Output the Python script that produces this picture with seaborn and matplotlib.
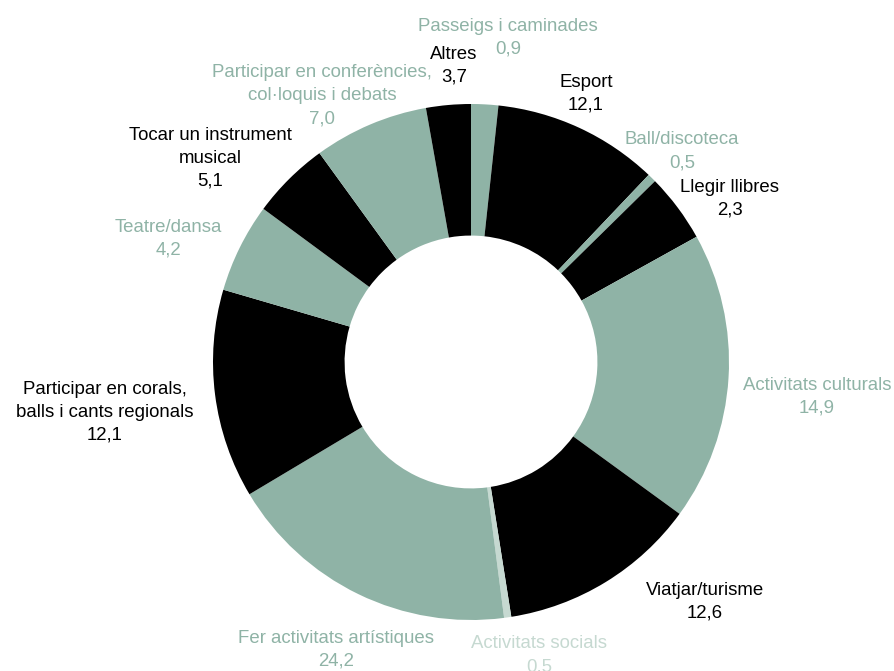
import matplotlib
matplotlib.use("Agg")
import matplotlib.pyplot as plt
import seaborn as sns

sns.set_theme(style="white")
plt.rcParams["font.family"] = ["Liberation Sans", "DejaVu Sans"]

# ── data ────────────────────────────────────────────────────────────────────
categories = [
    "Passeigs i caminades", "Esport", "Ball/discoteca", "Llegir llibres",
    "Activitats culturals", "Viatjar/turisme", "Activitats socials",
    "Fer activitats artístiques", "Participar en corals,\nballs i cants regionals",
    "Teatre/dansa", "Tocar un instrument\nmusical",
    "Participar en conferències,\ncol·loquis i debats", "Altres",
]
# values printed on the labels
values = [0.9, 12.1, 0.5, 2.3, 14.9, 12.6, 0.5, 24.2, 12.1, 4.2, 5.1, 7.0, 3.7]
# slice sizes as they are drawn in the picture (%)
shares = [1.7, 10.4, 0.55, 4.3, 18.1, 12.5, 0.45, 18.5, 13.1, 5.6, 4.9, 7.2, 2.8]

GREEN = "#8FB3A6"
LIGHT = "#C6D9D1"
BLACK = "#000000"
colors = [GREEN, BLACK, GREEN, BLACK, GREEN, BLACK, LIGHT,
          GREEN, BLACK, GREEN, BLACK, GREEN, BLACK]

# label centres in pixels (x, y of first line)
label_pos = [
    (508, 24), (586, 80), (682, 137), (730, 185), (817, 383), (705, 588),
    (539, 641), (336, 636), (105, 387), (168, 225), (210, 133), (322, 70),
    (454, 52),
]

W, H = 895, 671
fig = plt.figure(figsize=(W / 100, H / 100), dpi=100)
cx, cy, R = 471, 362, 258
ax = fig.add_axes([(cx - R) / W, (H - cy - R) / H, 2 * R / W, 2 * R / H])

ax.pie(shares, colors=colors, startangle=90, counterclock=False, radius=1,
       wedgeprops=dict(width=0.51, linewidth=0))
ax.set_xlim(-1, 1)
ax.set_ylim(-1, 1)
ax.set_aspect("equal")
ax.axis("off")

LINE = 23
for cat, val, col, (x, y) in zip(categories, values, colors, label_pos):
    lines = cat.split("\n") + [f"{val:.1f}".replace(".", ",")]
    for i, line in enumerate(lines):
        base = y + 7 + i * LINE
        fig.text(x / W, 1 - base / H, line, ha="center", va="baseline",
                 color=col, fontsize=13.4)

fig.savefig("out.png", dpi=100)
